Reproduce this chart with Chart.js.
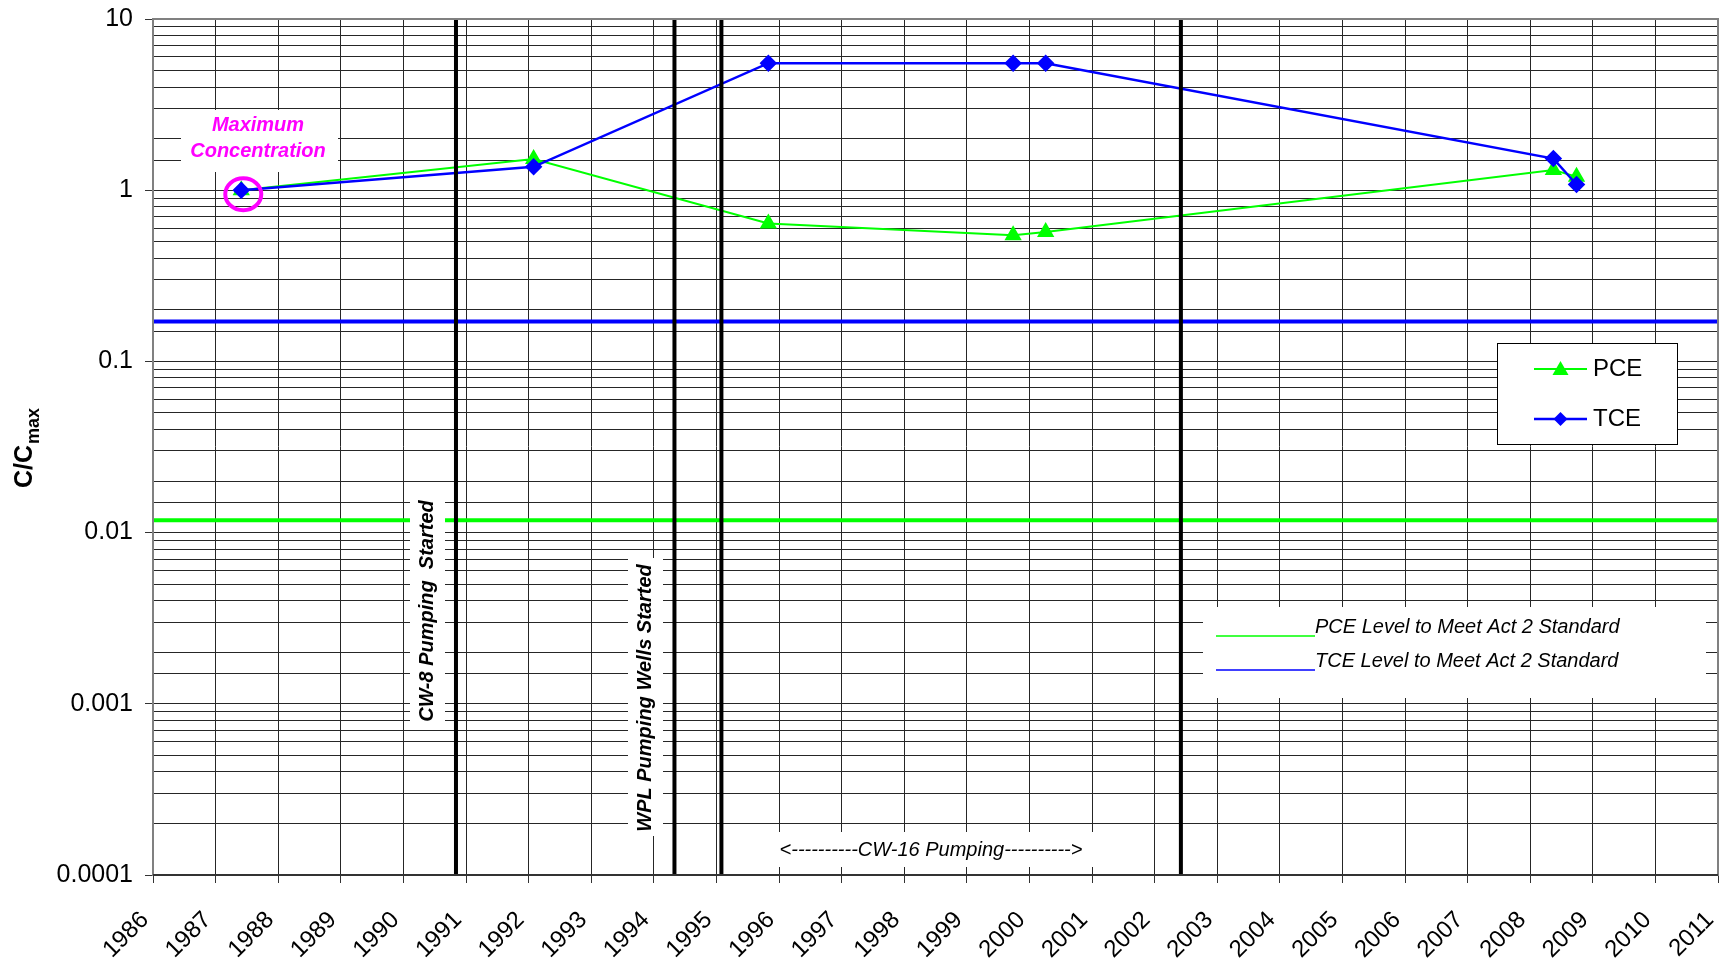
<!DOCTYPE html>
<html>
<head>
<meta charset="utf-8">
<script src="https://cdn.jsdelivr.net/npm/chart.js@4.4.1/dist/chart.umd.min.js"></script>
<style>body{margin:0;background:#fff}</style>
</head>
<body>
<canvas id="chart" width="1729" height="960"></canvas>
<script>
// sample dates (decimal years) and C/Cmax values
var sampleYears = [1987.41, 1992.08, 1995.83, 1999.74, 2000.26, 2008.37, 2008.74];
var pceValues = [1.0, 1.52, 0.64, 0.545, 0.57, 1.31, 1.20];
var tceValues = [1.0, 1.37, 5.52, 5.52, 5.52, 1.53, 1.08];
// Act 2 standard levels
var pceStandard = 0.0118;
var tceStandard = 0.171;
// vertical event lines (pumping start dates)
var eventYears = [1990.84, 1994.33, 1995.08, 2002.42];
var yTickLabels = ['0.0001', '0.001', '0.01', '0.1', '1', '10'];
var xMin = 1986, xMax = 2011;
var yMin = 0.0001, yMax = 10;

var FONT = "'Liberation Sans', Arial, sans-serif";
Chart.defaults.font.family = FONT;
Chart.defaults.color = '#000';

function pts(xs, ys) {
  return xs.map(function (x, i) { return { x: x, y: ys[i] }; });
}

var datasets = [
  {
    label: 'PCE', data: pts(sampleYears, pceValues),
    borderColor: '#00ff00', backgroundColor: '#00ff00', borderWidth: 2,
    pointStyle: 'triangle', pointRadius: 8, order: 2
  },
  {
    label: 'TCE', data: pts(sampleYears, tceValues),
    borderColor: '#0000ff', backgroundColor: '#0000ff', borderWidth: 2.5,
    pointStyle: 'rectRot', pointRadius: 7, order: 1
  },
  {
    label: 'pceStd', data: pts([xMin, xMax], [pceStandard, pceStandard]),
    borderColor: '#00ff00', borderWidth: 4, pointRadius: 0, order: 5
  },
  {
    label: 'tceStd', data: pts([xMin, xMax], [tceStandard, tceStandard]),
    borderColor: '#0000ff', borderWidth: 4, pointRadius: 0, order: 5
  }
];
eventYears.forEach(function (yr) {
  datasets.push({
    label: 'event', data: pts([yr, yr], [yMin, yMax]),
    borderColor: '#000', borderWidth: 4, pointRadius: 0, order: 0
  });
});

function whiteBox(ctx, x, y, w, h) {
  ctx.fillStyle = '#fff';
  ctx.fillRect(x, y, w, h);
  ctx.fillStyle = '#000';
}

var overlay = {
  id: 'overlay',
  afterDatasetsDraw: function (chart) {
    var ctx = chart.ctx, xs = chart.scales.x, ys = chart.scales.y;
    ctx.save();

    // Maximum Concentration note + circle
    whiteBox(ctx, 181, 110, 157, 62);
    ctx.fillStyle = '#ff00ff';
    ctx.font = 'italic bold 20px ' + FONT;
    ctx.textAlign = 'center';
    ctx.textBaseline = 'middle';
    ctx.fillText('Maximum', 258, 125);
    ctx.fillText('Concentration', 258, 151);
    var cx = xs.getPixelForValue(sampleYears[0]) + 2;
    var cy = ys.getPixelForValue(tceValues[0]) + 4;
    ctx.strokeStyle = '#ff00ff';
    ctx.lineWidth = 4;
    ctx.beginPath();
    ctx.ellipse(cx, cy, 18, 16, 0, 0, Math.PI * 2);
    ctx.stroke();

    // vertical labels
    ctx.font = 'italic bold 20px ' + FONT;
    whiteBox(ctx, 410, 502, 35, 220);
    whiteBox(ctx, 628, 558, 35, 278);
    ctx.save();
    ctx.translate(427, 611);
    ctx.rotate(-Math.PI / 2);
    ctx.fillText('CW-8 Pumping  Started', 0, 0);
    ctx.restore();
    ctx.save();
    ctx.translate(645, 698);
    ctx.rotate(-Math.PI / 2);
    ctx.fillText('WPL Pumping Wells Started', 0, 0);
    ctx.restore();

    // CW-16 pumping span
    whiteBox(ctx, 766, 832, 330, 35);
    ctx.font = 'italic 20px ' + FONT;
    ctx.fillText('<----------CW-16 Pumping---------->', 931, 850);

    // Act 2 standard note
    whiteBox(ctx, 1203, 607, 503, 91);
    ctx.textAlign = 'left';
    ctx.fillText('PCE Level to Meet Act 2 Standard', 1315, 627);
    ctx.fillText('TCE Level to Meet Act 2 Standard', 1315, 661);
    ctx.lineWidth = 1.5;
    ctx.strokeStyle = '#00ff00';
    ctx.beginPath(); ctx.moveTo(1216, 636); ctx.lineTo(1315, 636); ctx.stroke();
    ctx.strokeStyle = '#0000ff';
    ctx.beginPath(); ctx.moveTo(1216, 670); ctx.lineTo(1315, 670); ctx.stroke();

    // legend
    whiteBox(ctx, 1497, 343, 180, 101);
    ctx.strokeStyle = '#000';
    ctx.lineWidth = 1;
    ctx.strokeRect(1497.5, 343.5, 180, 101);
    ctx.lineWidth = 2;
    ctx.strokeStyle = '#00ff00';
    ctx.beginPath(); ctx.moveTo(1534, 369); ctx.lineTo(1587, 369); ctx.stroke();
    ctx.fillStyle = '#00ff00';
    ctx.beginPath(); ctx.moveTo(1560.5, 361); ctx.lineTo(1568.5, 375); ctx.lineTo(1552.5, 375); ctx.closePath(); ctx.fill();
    ctx.strokeStyle = '#0000ff';
    ctx.lineWidth = 2.5;
    ctx.beginPath(); ctx.moveTo(1534, 419); ctx.lineTo(1587, 419); ctx.stroke();
    ctx.fillStyle = '#0000ff';
    ctx.beginPath(); ctx.moveTo(1560.5, 412); ctx.lineTo(1567.5, 419); ctx.lineTo(1560.5, 426); ctx.lineTo(1553.5, 419); ctx.closePath(); ctx.fill();
    ctx.fillStyle = '#000';
    ctx.font = '24px ' + FONT;
    ctx.textBaseline = 'middle';
    ctx.fillText('PCE', 1593, 369);
    ctx.fillText('TCE', 1593, 419);

    // plot frame
    var a = chart.chartArea;
    ctx.strokeStyle = '#808080';
    ctx.lineWidth = 2;
    ctx.strokeRect(a.left, a.top, a.right - a.left, a.bottom - a.top);
    ctx.strokeStyle = '#333';
    ctx.beginPath(); ctx.moveTo(a.left, a.bottom); ctx.lineTo(a.right, a.bottom); ctx.stroke();

    // y title C/Cmax
    ctx.save();
    ctx.translate(25, 488);
    ctx.rotate(-Math.PI / 2);
    ctx.fillStyle = '#000';
    ctx.textAlign = 'left';
    ctx.textBaseline = 'middle';
    ctx.font = 'bold 25px ' + FONT;
    ctx.fillText('C/C', 0, 0);
    var w = ctx.measureText('C/C').width;
    ctx.font = 'bold 18px ' + FONT;
    ctx.fillText('max', w + 1, 9);
    ctx.restore();

    ctx.restore();
  }
};

function isMajor(v) {
  var l = Math.log10(v);
  return Math.abs(l - Math.round(l)) < 1e-6;
}

var ctx = document.getElementById('chart').getContext('2d');
var myChart = new Chart(ctx, {
  type: 'line',
  data: { datasets: datasets },
  options: {
    responsive: false,
    animation: false,
    layout: { padding: { left: 0, right: 11, top: 19, bottom: 0 } },
    plugins: { legend: { display: false }, tooltip: { enabled: false } },
    scales: {
      x: {
        type: 'linear', min: xMin, max: xMax,
        afterFit: function (s) { s.height = 85; s.paddingLeft = 0; s.paddingRight = 0; },
        ticks: {
          stepSize: 1, minRotation: 45, maxRotation: 45, padding: 23, labelOffset: -8,
          font: { size: 24 }, color: '#000',
          callback: function (v) { return String(v); }
        },
        grid: { color: '#262626', lineWidth: 1, tickLength: 8, tickColor: '#333' },
        border: { color: '#333', width: 2 }
      },
      y: {
        type: 'logarithmic', min: yMin, max: yMax,
        afterFit: function (s) { s.width = 153; s.paddingTop = 0; s.paddingBottom = 0; },
        ticks: {
          autoSkip: false, padding: 12, font: { size: 25 }, color: '#000',
          callback: function (v) {
            if (!isMajor(v)) return '';
            return yTickLabels[Math.round(Math.log10(v)) + 4];
          }
        },
        grid: {
          color: '#262626', lineWidth: 1, tickLength: 8,
          tickColor: function (c) { return c.tick && isMajor(c.tick.value) ? '#333' : 'rgba(0,0,0,0)'; }
        },
        border: { color: '#808080', width: 2 }
      }
    }
  },
  plugins: [overlay]
});
</script>
</body>
</html>
